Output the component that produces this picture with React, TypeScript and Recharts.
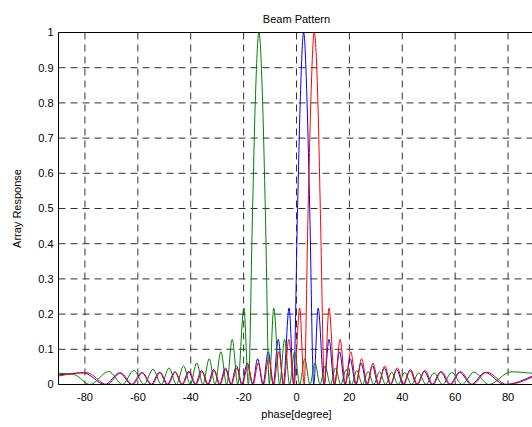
import { CartesianGrid, Line, LineChart, ReferenceLine, XAxis, YAxis } from "recharts";

const xTicks = [-80, -60, -40, -20, 0, 20, 40, 60, 80];
const yTicks = [0, 0.1, 0.2, 0.3, 0.4, 0.5, 0.6, 0.7, 0.8, 0.9, 1];

// peaks and nulls of each beam (degrees, response)
const blueAngles = [
  -90, -80.5, -72.4, -66.9, -62.4, -58.5, -55.0, -51.8, -48.9, -46.0, -43.3, -40.8, -38.3, -35.9, -33.6, -31.3,
  -29.1, -26.9, -24.8, -22.7, -20.7, -18.6, -16.6, -14.7, -12.7, -10.7, -8.8, -6.9, -5.0, -2.8, -1.1, 0.4, 1.4,
  2.7, 4.0, 5.0, 6.5, 8.2, 10.4, 12.3, 14.3, 16.3, 18.3, 20.3, 22.4, 24.4, 26.6, 28.7, 30.9, 33.2, 35.5, 37.9,
  40.3, 42.9, 45.5, 48.3, 51.3, 54.5, 57.9, 61.7, 66.0, 71.3, 78.6, 90,
];
const blueValues = [
  0.027, 0.033, 0, 0.033, 0, 0.034, 0, 0.035, 0, 0.036, 0, 0.037, 0, 0.04, 0, 0.043, 0, 0.047, 0, 0.053, 0, 0.061,
  0, 0.073, 0, 0.093, 0, 0.128, 0, 0.217, 0, 0.5, 0.8, 1, 0.8, 0.5, 0, 0.217, 0, 0.128, 0, 0.093, 0, 0.073, 0,
  0.061, 0, 0.053, 0, 0.047, 0, 0.043, 0, 0.04, 0, 0.037, 0, 0.036, 0, 0.035, 0, 0.034, 0, 0.027,
];

const greenAngles = [
  -90, -84, -78.1, -71.0, -65.8, -61.5, -57.7, -54.3, -51.1, -48.2, -45.4, -42.7, -40.2, -37.7, -35.4, -33.0,
  -30.8, -28.6, -26.4, -24.3, -22.2, -19.9, -18.2, -16.6, -15.6, -14.2, -12.8, -11.8, -10.3, -8.6, -6.4, -4.5,
  -2.6, -0.7, 1.2, 3.1, 5.1, 7.0, 8.9, 10.8, 12.8, 14.8, 16.7, 18.8, 20.8, 22.8, 24.9, 27.1, 29.2, 31.4, 33.7,
  36.0, 38.4, 40.9, 43.5, 46.2, 49.0, 52.0, 55.2, 58.7, 62.6, 67.1, 72.7, 81.1, 90,
];
const greenValues = [
  0.032, 0.028, 0, 0.037, 0, 0.04, 0, 0.043, 0, 0.047, 0, 0.053, 0, 0.061, 0, 0.073, 0, 0.093, 0, 0.128, 0, 0.217,
  0, 0.5, 0.8, 1, 0.8, 0.5, 0, 0.217, 0, 0.128, 0, 0.093, 0, 0.073, 0, 0.061, 0, 0.053, 0, 0.047, 0, 0.043, 0,
  0.04, 0, 0.037, 0, 0.036, 0, 0.035, 0, 0.034, 0, 0.033, 0, 0.033, 0, 0.034, 0, 0.035, 0, 0.036, 0.031,
];

const redAngles = [
  -90, -79.4, -71.7, -66.4, -62.0, -58.2, -54.7, -51.5, -48.6, -45.8, -43.1, -40.5, -38.0, -35.7, -33.3, -31.1,
  -28.9, -26.7, -24.6, -22.5, -20.5, -18.4, -16.4, -14.5, -12.5, -10.5, -8.6, -6.7, -4.8, -2.9, -0.9, 1.2, 2.9,
  4.4, 5.4, 6.7, 8.1, 9.0, 10.6, 12.3, 14.5, 16.5, 18.5, 20.5, 22.6, 24.6, 26.8, 28.9, 31.1, 33.4, 35.7, 38.1,
  40.6, 43.1, 45.8, 48.6, 51.6, 54.8, 58.3, 62.1, 66.5, 71.9, 79.6, 90,
];
const redValues = [
  0.024, 0.034, 0, 0.033, 0, 0.033, 0, 0.034, 0, 0.035, 0, 0.036, 0, 0.037, 0, 0.04, 0, 0.043, 0, 0.047, 0, 0.053,
  0, 0.061, 0, 0.073, 0, 0.093, 0, 0.128, 0, 0.217, 0, 0.5, 0.8, 1, 0.8, 0.5, 0, 0.217, 0, 0.128, 0, 0.093, 0,
  0.073, 0, 0.061, 0, 0.053, 0, 0.047, 0, 0.043, 0, 0.04, 0, 0.037, 0, 0.036, 0, 0.035, 0, 0.024,
];

const toPoints = (angles: number[], values: number[]) => angles.map((x, i) => ({ x, y: values[i] }));

// MATLAB plot order: blue, green, red
const series = [
  { name: "blue", color: "#0000ff", points: toPoints(blueAngles, blueValues) },
  { name: "green", color: "#008000", points: toPoints(greenAngles, greenValues) },
  { name: "red", color: "#ff0000", points: toPoints(redAngles, redValues) },
];

const font = "'Liberation Sans', Arial, Helvetica, sans-serif";
const tickStyle = { fill: "#000", fontSize: 11, fontFamily: font };

export default function App() {
  return (
    <div style={{ position: "absolute", left: 0, top: 0, width: 532, height: 427, overflow: "hidden", background: "#fff" }}>
      <LineChart width={560} height={427} margin={{ top: 32.5, right: 25.5, bottom: 0, left: 0 }} style={{ fontFamily: font }}>
        <CartesianGrid stroke="#333" strokeDasharray="7 5" horizontalValues={yTicks} verticalValues={xTicks} />
        <XAxis
          type="number"
          dataKey="x"
          domain={[-90, 90]}
          ticks={xTicks}
          interval={0}
          allowDataOverflow
          height={42.5}
          tickSize={0}
          tickMargin={9}
          tickLine={false}
          axisLine={{ stroke: "#000" }}
          tick={tickStyle}
          label={{ value: "phase[degree]", position: "insideBottom", offset: 9, fill: "#000", fontSize: 11 }}
        />
        <YAxis
          type="number"
          domain={[0, 1]}
          ticks={yTicks}
          interval={0}
          allowDataOverflow
          width={58.5}
          tickSize={0}
          tickMargin={5}
          tickLine={false}
          axisLine={{ stroke: "#000" }}
          tick={tickStyle}
          label={{
            value: "Array Response",
            angle: -90,
            position: "insideLeft",
            offset: 17,
            fill: "#000",
            fontSize: 11,
            style: { textAnchor: "middle" },
          }}
        />
        <ReferenceLine
          y={1}
          stroke="#000"
          label={{ value: "Beam Pattern", position: "top", offset: 10, fill: "#000", fontSize: 11 }}
        />
        {series.map((s) => (
          <Line
            key={s.name}
            data={s.points}
            dataKey="y"
            type="monotone"
            stroke={s.color}
            strokeWidth={1}
            dot={false}
            activeDot={false}
            isAnimationActive={false}
          />
        ))}
      </LineChart>
    </div>
  );
}
